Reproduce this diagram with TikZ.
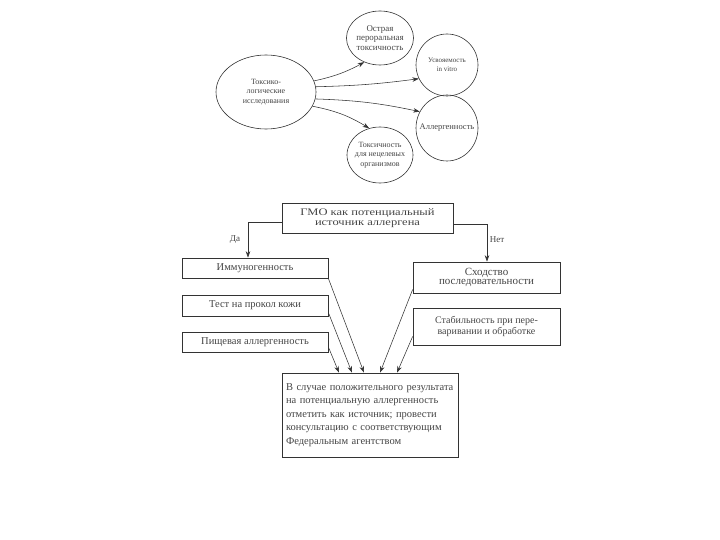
\documentclass[tikz,border=0pt]{standalone}
\usepackage{fontspec}
\setmainfont{Liberation Serif}
\newfontfamily\widefont[FakeStretch=1.25]{Liberation Serif}
\usepackage{tikz}
\usetikzlibrary{positioning, arrows.meta, shapes.geometric}
\definecolor{ink}{HTML}{333333}
\definecolor{inktext}{HTML}{444444}
\newcommand{\fillline}[1]{\leavevmode\hbox to 168pt{#1}}

\begin{document}
\begin{tikzpicture}[x=1pt, y=-1pt,
    oval/.style={draw=ink, line width=0.6pt, ellipse, inner sep=0pt,
                 text=inktext, align=center, font=\fontsize{8}{9.5}\selectfont},
    stepbox/.style={draw=ink, line width=0.7pt, inner sep=0pt,
                    text=inktext, align=center, font=\fontsize{10.5}{10}\selectfont},
    arr/.style={ink, line width=0.55pt, -{Stealth[length=6.5pt, width=4.5pt]}}]
      \useasboundingbox (0, 0) rectangle (720, 540);

      % Upper scheme: ellipses
      \node[oval, minimum width=100pt, minimum height=74pt] (tox) at (266, 92)
        {Токсико-\\логические\\исследования};
      \node[oval, minimum width=66pt, minimum height=54pt,
            font=\fontsize{8.9}{9.5}\selectfont] (acute) at (380, 38)
        {Острая\\пероральная\\токсичность};
      \node[oval, minimum width=62pt, minimum height=62pt,
            font=\fontsize{7}{9}\selectfont] (digest) at (447, 65)
        {Усвояемость\\in vitro};
      \node[oval, minimum width=62pt, minimum height=66pt,
            font=\fontsize{8.5}{9}\selectfont] (allerg) at (447, 128)
        {\makebox[0pt]{Аллергенность}};
      \node[oval, minimum width=66pt, minimum height=56pt,
            inner xsep=-3pt] (nontarget) at (380, 155)
        {Токсичность\\для нецелевых\\организмов};

      % Arrows from the studies ellipse
      \draw[arr] (tox.13) to[bend right=8] (acute.237);
      \draw[arr] (tox.6) to[bend right=3] (digest.206);
      \draw[arr] (tox.-8) to[bend left=5] (allerg.149);
      \draw[arr] (tox.-17) to[bend left=10] (nontarget.112);

      % Lower scheme: boxes
      \node[stepbox, minimum width=171pt, minimum height=30pt,
            font=\widefont\fontsize{10}{9.5}\selectfont] (gmo) at (367.5, 218)
        {ГМО как потенциальный\\источник аллергена};
      \node[stepbox, minimum width=146pt, minimum height=20pt] (immuno) at (255, 268)
        {Иммуногенность};
      \node[stepbox, minimum width=146pt, minimum height=21pt] (skin) at (255, 305.5)
        {Тест на прокол кожи};
      \node[stepbox, minimum width=146pt, minimum height=20pt] (food) at (255, 342)
        {Пищевая аллергенность};
      \node[stepbox, minimum width=147pt, minimum height=31pt,
            font=\fontsize{11}{9.5}\selectfont] (similar) at (486.5, 277.5)
        {Сходство\\последовательности};
      \node[stepbox, minimum width=147pt, minimum height=37pt,
            font=\fontsize{10}{11}\selectfont] (stab) at (486.5, 326.5)
        {Стабильность при пере-\\варивании и обработке};
      \node[stepbox, minimum width=176pt, minimum height=84pt, text width=168pt,
            align=left, font=\fontsize{10.5}{13.5}\selectfont] (result) at (370, 415)
        {\fillline{В случае положительного результата}\\
         \fillline{на потенциальную аллергенность}\\
         \fillline{отметить как источник; провести}\\
         \fillline{консультацию с соответствующим}\\
         Федеральным агентством};

      % Yes / No branches
      \draw[arr] ([yshift=-4pt]gmo.west) -| ([xshift=-7pt]immuno.north);
      \draw[arr] ([yshift=-6pt]gmo.east) -| ([xshift=0.5pt]similar.north);
      \node[font=\fontsize{9}{9}\selectfont, text=inktext] (yes) at (235, 240) {Да};
      \node[font=\fontsize{9}{9}\selectfont, text=inktext] (no) at (497, 240) {Нет};

      % Arrows into the result box
      \draw[arr] (immuno.south east) -- ([xshift=-6pt]result.north);
      \draw[arr] ([yshift=-7pt]skin.east) -- ([xshift=-18pt]result.north);
      \draw[arr] ([yshift=-5pt]food.east) -- ([xshift=-31pt]result.north);
      \draw[arr] ([yshift=-12pt]similar.west) -- ([xshift=10pt]result.north);
      \draw[arr] ([yshift=-10pt]stab.west) -- ([xshift=27pt]result.north);
    \end{tikzpicture}
\end{document}
